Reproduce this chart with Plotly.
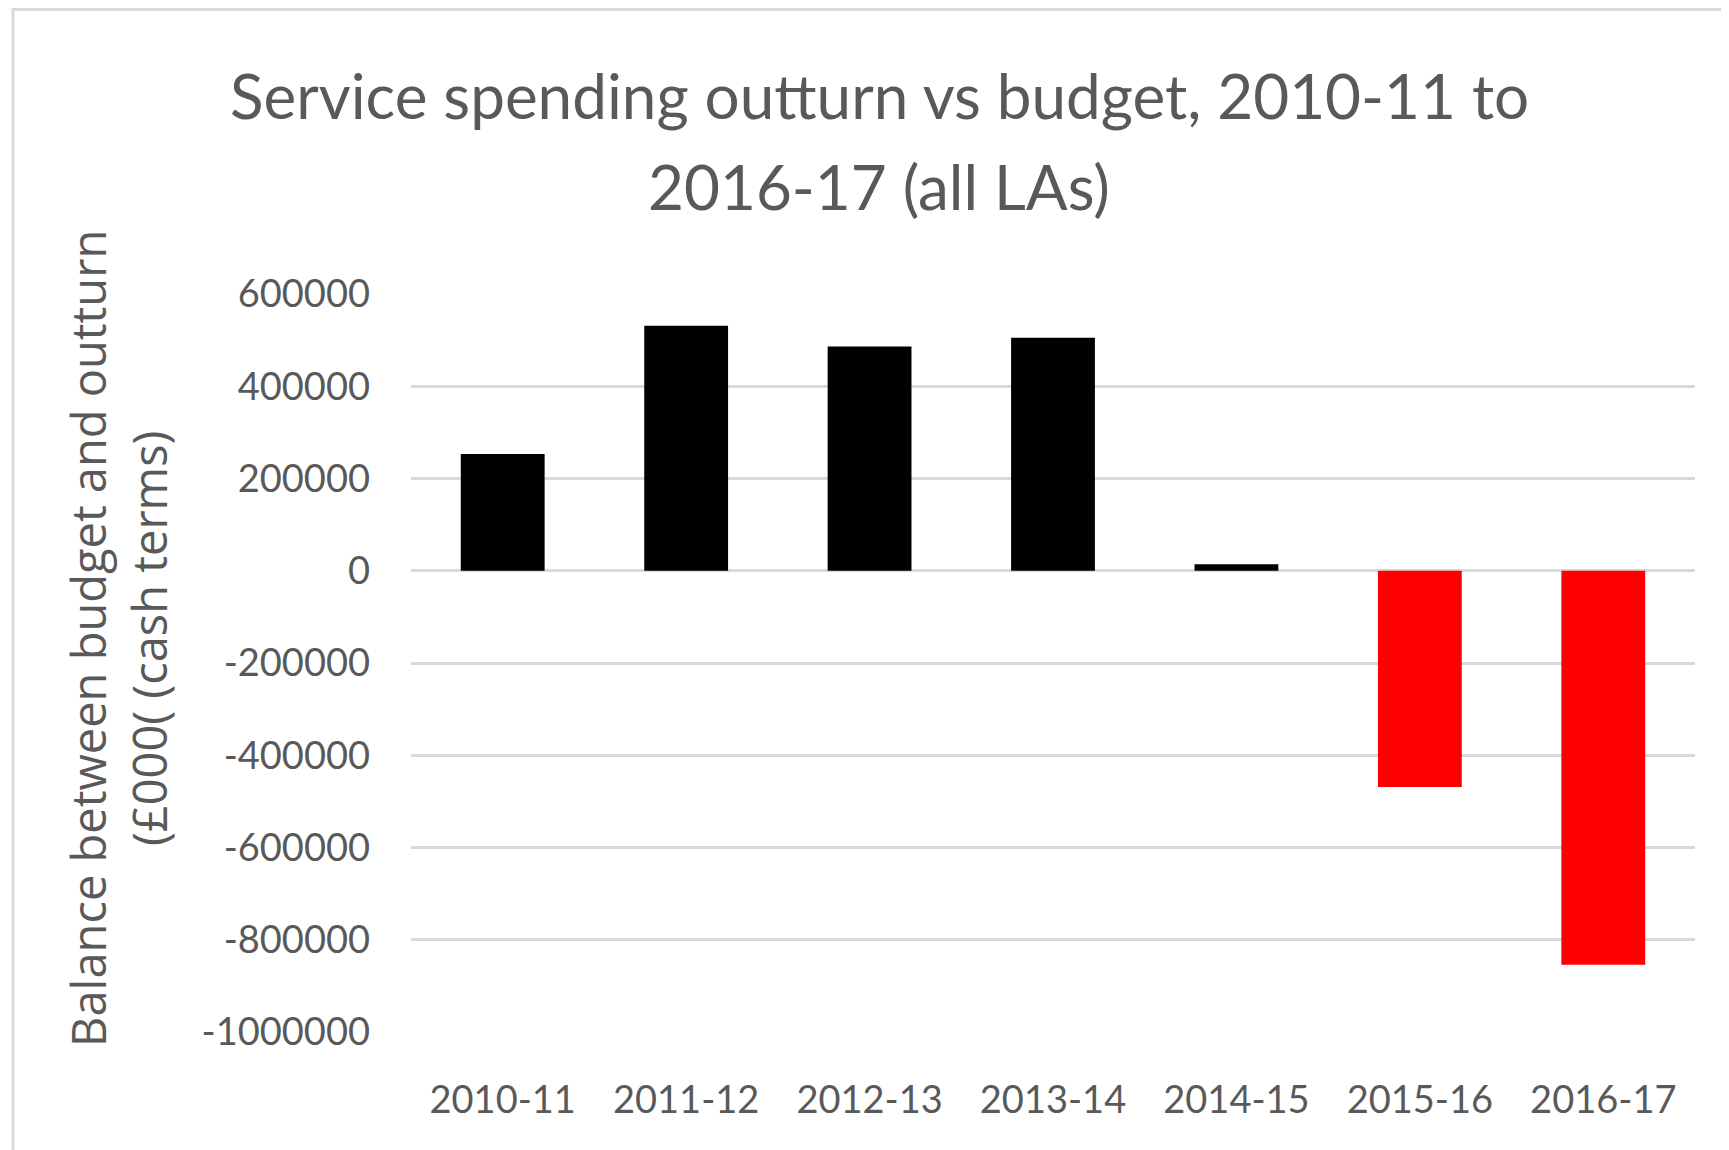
import plotly.graph_objects as go

years = ["2010-11", "2011-12", "2012-13", "2013-14", "2014-15", "2015-16", "2016-17"]
balance = [253000, 531000, 486000, 505000, 14000, -469000, -854000]
bar_colours = ["#000000", "#000000", "#000000", "#000000", "#000000", "#ff0000", "#ff0000"]
y_ticks = [600000, 400000, 200000, 0, -200000, -400000, -600000, -800000, -1000000]

grey_text = "#595959"
grid = "#d9d9d9"

fig = go.Figure(
    go.Bar(
        x=years,
        y=balance,
        marker=dict(color=bar_colours, line=dict(width=0)),
    )
)

fig.update_layout(
    width=1729,
    height=1150,
    paper_bgcolor="white",
    plot_bgcolor="white",
    margin=dict(l=403, r=42, t=286, b=126, autoexpand=False),
    bargap=0.543,
    showlegend=False,
    font=dict(family="Lato", color=grey_text),
)

fig.update_yaxes(
    range=[-1000000, 600000],
    tickvals=y_ticks,
    ticktext=[str(v) for v in y_ticks],
    showgrid=True,
    gridcolor=grid,
    gridwidth=3,
    zeroline=True,
    zerolinecolor=grid,
    zerolinewidth=3,
    showline=False,
    ticks="",
    automargin=False,
    ticklabelstandoff=40,
    tickfont=dict(family="Lato", size=38, color=grey_text),
)

fig.update_xaxes(
    type="category",
    showgrid=False,
    showline=False,
    ticks="",
    automargin=False,
    tickangle=0,
    ticklabelstandoff=42,
    tickfont=dict(family="Lato", size=38, color=grey_text),
)

# chart title, one annotation per line so the line spacing can match
title_lines = ["Service spending outturn vs budget, 2010-11 to", "2016-17 (all LAs)"]
for line, ypos in zip(title_lines, [1.2696, 1.1457]):
    fig.add_annotation(
        text=line,
        xref="paper",
        yref="paper",
        x=0.3645,
        y=ypos,
        xanchor="center",
        yanchor="middle",
        showarrow=False,
        font=dict(family="Lato", size=62, color=grey_text),
    )

fig.add_annotation(
    text="Balance between budget and outturn<br>(£000( (cash terms)",
    xref="paper",
    yref="paper",
    x=-0.228,
    y=0.533,
    xanchor="center",
    yanchor="middle",
    textangle=-90,
    showarrow=False,
    font=dict(family="Open Sans", size=47, color=grey_text),
)

# light chart border, only top and left edges visible in the crop
fig.add_shape(
    type="rect",
    xref="paper",
    yref="paper",
    x0=-0.31,
    y0=-0.5,
    x1=1.2,
    y1=1.3855,
    line=dict(color=grid, width=3),
    fillcolor="rgba(0,0,0,0)",
    layer="below",
)

fig.write_html("out.html")
